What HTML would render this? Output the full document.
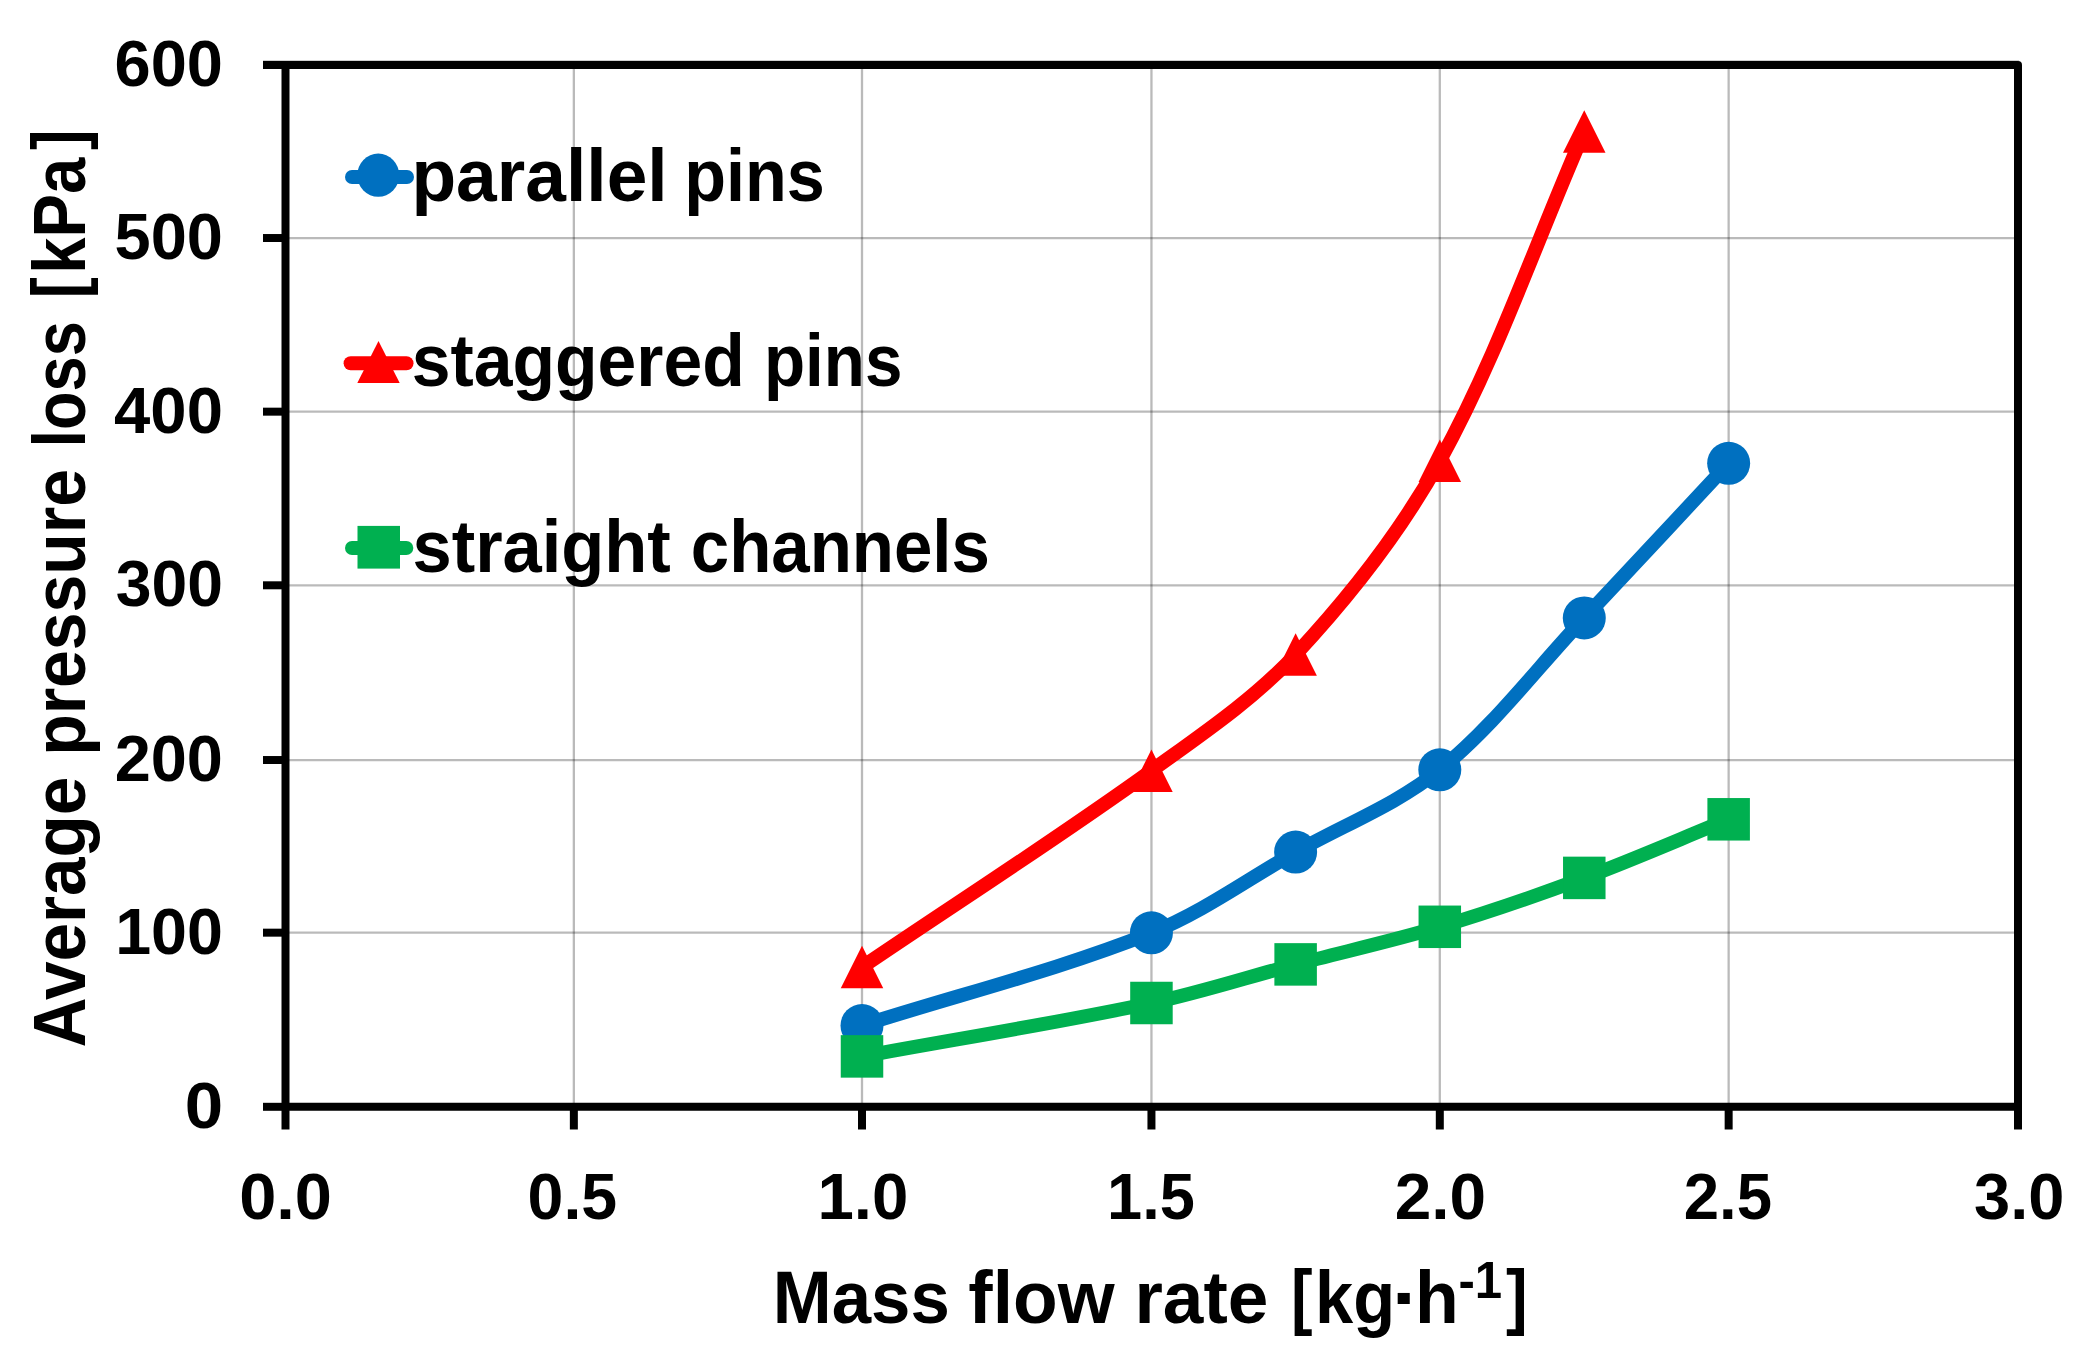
<!DOCTYPE html>
<html lang="en"><head><meta charset="utf-8"><title>Average pressure loss vs mass flow rate</title>
<style>
html,body{margin:0;padding:0;background:#fff;}
body{width:2080px;height:1368px;overflow:hidden;}
svg{display:block;}
svg text{font-family:"Liberation Sans",sans-serif;font-weight:bold;fill:#000;font-variant-ligatures:none;}
</style></head><body>
<svg width="2080" height="1368" viewBox="0 0 2080 1368">
<rect width="2080" height="1368" fill="#fff"/>
<g stroke="#000" stroke-opacity="0.27" stroke-width="2.3" fill="none">
<line x1="573.85" y1="65.0" x2="573.85" y2="1106.8"/>
<line x1="862.00" y1="65.0" x2="862.00" y2="1106.8"/>
<line x1="1151.45" y1="65.0" x2="1151.45" y2="1106.8"/>
<line x1="1439.80" y1="65.0" x2="1439.80" y2="1106.8"/>
<line x1="1728.65" y1="65.0" x2="1728.65" y2="1106.8"/>
<line x1="285.5" y1="932.67" x2="2018.0" y2="932.67"/>
<line x1="285.5" y1="760.03" x2="2018.0" y2="760.03"/>
<line x1="285.5" y1="585.30" x2="2018.0" y2="585.30"/>
<line x1="285.5" y1="411.67" x2="2018.0" y2="411.67"/>
<line x1="285.5" y1="238.03" x2="2018.0" y2="238.03"/>
</g>
<path d="M862.00,1025.50 C958.48,994.60 1057.81,970.24 1151.45,932.80 C1202.35,912.44 1247.68,879.20 1295.62,852.10 C1343.80,824.87 1397.28,804.30 1439.80,769.80 C1493.50,726.23 1536.35,668.75 1584.28,617.90 C1632.63,566.59 1680.53,514.83 1728.65,463.30" fill="none" stroke="#0070C0" stroke-width="14" stroke-linecap="round" stroke-linejoin="round"/>
<circle cx="862.00" cy="1025.50" r="21.5" fill="#0070C0"/><circle cx="1151.45" cy="932.80" r="21.5" fill="#0070C0"/><circle cx="1295.62" cy="852.10" r="21.5" fill="#0070C0"/><circle cx="1439.80" cy="769.80" r="21.5" fill="#0070C0"/><circle cx="1584.28" cy="617.90" r="21.5" fill="#0070C0"/><circle cx="1728.65" cy="463.30" r="21.5" fill="#0070C0"/>
<path d="M862.00,967.10 C958.48,901.63 1056.95,838.85 1151.45,770.70 C1201.49,734.61 1253.89,699.25 1295.62,654.40 C1350.01,595.95 1401.15,530.81 1439.80,460.80 C1497.37,356.54 1536.12,241.33 1584.28,131.60" fill="none" stroke="#FF0000" stroke-width="14" stroke-linecap="round" stroke-linejoin="round"/>
<polygon points="862.00,945.85 883.25,988.35 840.75,988.35" fill="#FF0000"/><polygon points="1151.45,749.45 1172.70,791.95 1130.20,791.95" fill="#FF0000"/><polygon points="1295.62,633.15 1316.88,675.65 1274.38,675.65" fill="#FF0000"/><polygon points="1439.80,439.55 1461.05,482.05 1418.55,482.05" fill="#FF0000"/><polygon points="1584.28,110.35 1605.53,152.85 1563.03,152.85" fill="#FF0000"/>
<path d="M862.00,1056.40 C958.48,1038.60 1055.54,1023.35 1151.45,1003.00 C1200.08,992.68 1247.53,977.11 1295.62,964.40 C1343.64,951.71 1392.25,941.05 1439.80,926.80 C1488.47,912.21 1536.65,895.63 1584.28,877.90 C1632.93,859.79 1680.53,838.83 1728.65,819.30" fill="none" stroke="#00B050" stroke-width="14" stroke-linecap="round" stroke-linejoin="round"/>
<rect x="840.75" y="1035.15" width="42.5" height="42.5" fill="#00B050"/><rect x="1130.20" y="981.75" width="42.5" height="42.5" fill="#00B050"/><rect x="1274.38" y="943.15" width="42.5" height="42.5" fill="#00B050"/><rect x="1418.55" y="905.55" width="42.5" height="42.5" fill="#00B050"/><rect x="1563.03" y="856.65" width="42.5" height="42.5" fill="#00B050"/><rect x="1707.40" y="798.05" width="42.5" height="42.5" fill="#00B050"/>
<line x1="263" y1="60.5" x2="2019" y2="60.5" stroke="#cfcfcf" stroke-width="1"/>
<rect x="285.5" y="65.0" width="1732.5" height="1041.80" fill="none" stroke="#000" stroke-width="8" stroke-linejoin="round"/>
<g stroke="#000" stroke-width="8">
<line x1="263" y1="1106.80" x2="285.5" y2="1106.80"/>
<line x1="263" y1="932.67" x2="285.5" y2="932.67"/>
<line x1="263" y1="760.03" x2="285.5" y2="760.03"/>
<line x1="263" y1="585.30" x2="285.5" y2="585.30"/>
<line x1="263" y1="411.67" x2="285.5" y2="411.67"/>
<line x1="263" y1="238.03" x2="285.5" y2="238.03"/>
<line x1="263" y1="65.00" x2="285.5" y2="65.00"/>
<line x1="285.50" y1="1106.8" x2="285.50" y2="1129.5"/>
<line x1="573.85" y1="1106.8" x2="573.85" y2="1129.5"/>
<line x1="862.00" y1="1106.8" x2="862.00" y2="1129.5"/>
<line x1="1151.45" y1="1106.8" x2="1151.45" y2="1129.5"/>
<line x1="1439.80" y1="1106.8" x2="1439.80" y2="1129.5"/>
<line x1="1728.65" y1="1106.8" x2="1728.65" y2="1129.5"/>
<line x1="2018.00" y1="1106.8" x2="2018.00" y2="1129.5"/>
</g>
<text transform="translate(184.73,1127.80) scale(1.0542,1)" font-size="65.5">0</text>
<text transform="translate(115.20,953.67) scale(0.9860,1)" font-size="65.5">100</text>
<text transform="translate(114.68,781.03) scale(0.9909,1)" font-size="65.5">200</text>
<text transform="translate(115.69,606.30) scale(0.9813,1)" font-size="65.5">300</text>
<text transform="translate(114.08,432.67) scale(0.9965,1)" font-size="65.5">400</text>
<text transform="translate(114.58,259.03) scale(0.9917,1)" font-size="65.5">500</text>
<text transform="translate(114.48,86.00) scale(0.9928,1)" font-size="65.5">600</text>
<text transform="translate(239.16,1219.20) scale(1.0189,1)" font-size="65.5">0.0</text>
<text transform="translate(527.60,1219.20) scale(0.9842,1)" font-size="65.5">0.5</text>
<text transform="translate(817.45,1219.20) scale(0.9987,1)" font-size="65.5">1.0</text>
<text transform="translate(1107.04,1219.20) scale(0.9635,1)" font-size="65.5">1.5</text>
<text transform="translate(1394.75,1219.20) scale(1.0044,1)" font-size="65.5">2.0</text>
<text transform="translate(1683.68,1219.20) scale(0.9699,1)" font-size="65.5">2.5</text>
<text transform="translate(1973.98,1219.20) scale(0.9927,1)" font-size="65.5">3.0</text>
<text transform="translate(772.77,1323.20) scale(0.9564,1)" font-size="74">Mass</text>
<text transform="translate(968.35,1323.20) scale(0.9888,1)" font-size="74">flow</text>
<text transform="translate(1134.39,1323.20) scale(0.9864,1)" font-size="74">rate</text>
<text transform="translate(1291.07,1321.20) scale(0.8851,1)" font-size="73">[</text>
<text transform="translate(1315.11,1323.20) scale(0.9273,1)" font-size="74">kg</text>
<text transform="translate(1391.78,1323.20) scale(1.1628,1)" font-size="74">·</text>
<text transform="translate(1414.90,1323.20) scale(0.9677,1)" font-size="74">h</text>
<text transform="translate(1458.38,1298.30) scale(0.9540,1)" font-size="51.5">-1</text>
<text transform="translate(1505.91,1321.20) scale(0.8903,1)" font-size="73">]</text>
<g transform="translate(85.3,1045.7) rotate(-90)">
<text transform="translate(-1.72,0.00) scale(0.9360,1)" font-size="74">Average</text>
<text transform="translate(289.93,0.00) scale(0.9171,1)" font-size="74">pressure</text>
<text transform="translate(598.30,0.00) scale(0.8515,1)" font-size="74">loss</text>
<text transform="translate(747.44,-2.00) scale(0.8696,1)" font-size="73">[</text>
<text transform="translate(772.05,0.00) scale(0.8805,1)" font-size="74">kPa</text>
<text transform="translate(895.75,-2.00) scale(0.8437,1)" font-size="73">]</text>
</g>
<line x1="352" y1="177.0" x2="407" y2="177.0" stroke="#0070C0" stroke-width="14" stroke-linecap="round"/>
<ellipse cx="378.25" cy="175.2" rx="21" ry="21.6" fill="#0070C0"/>
<line x1="350.6" y1="363.2" x2="406.5" y2="363.2" stroke="#FF0000" stroke-width="14" stroke-linecap="round"/>
<polygon points="378.5,340.9 399.7,383.1 357.3,383.1" fill="#FF0000"/>
<line x1="352" y1="548.0" x2="406.3" y2="548.0" stroke="#00B050" stroke-width="14" stroke-linecap="round"/>
<rect x="357.5" y="525.9" width="42.5" height="42.7" fill="#00B050"/>
<text transform="translate(411.43,201.25) scale(0.9888,1)" font-size="74">parallel</text>
<text transform="translate(684.24,201.25) scale(0.9240,1)" font-size="74">pins</text>
<text transform="translate(411.75,386.00) scale(0.9417,1)" font-size="74">staggered</text>
<text transform="translate(763.96,386.00) scale(0.9105,1)" font-size="74">pins</text>
<text transform="translate(412.52,572.20) scale(0.9520,1)" font-size="74">straight</text>
<text transform="translate(690.80,572.20) scale(0.9325,1)" font-size="74">channels</text>
</svg></body></html>
